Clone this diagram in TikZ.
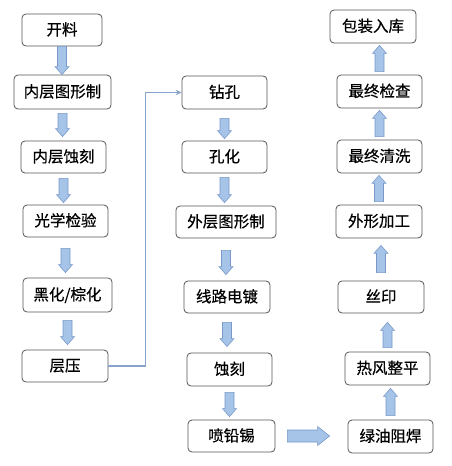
\documentclass[tikz,border=0pt]{standalone}
\usepackage{fontspec}
\setmainfont{Noto Sans CJK SC}[BoldFont={Noto Sans CJK SC},BoldFeatures={FakeBold=0.5}]
\usetikzlibrary{calc,arrows.meta}
\definecolor{boxline}{HTML}{555555}
\definecolor{arrfill}{HTML}{A6C3E8}
\definecolor{arrline}{HTML}{7899C9}
\definecolor{conline}{HTML}{86A3CB}
\tikzset{
  stepbox/.style={draw=boxline, line width=0.8pt, rounded corners=4pt,
    minimum height=32pt, inner sep=0pt, font=\fontsize{15.5}{15.5}\selectfont\bfseries,
    text height=12.5pt, text depth=2pt, fill=white},
  blockarrow/.style={draw=arrline, fill=arrfill, line width=0.6pt, line join=miter},
  conn/.style={draw=conline, line width=1.5pt}
}
\newcommand\blockarr[5]{%
  \coordinate (bs) at #1; \coordinate (be) at #2;
  \coordinate (bh) at ($(be)!#5!(bs)$);
  \draw[blockarrow] ($(bs)!#3!90:(be)$) -- ($(bh)!#3!90:(be)$) -- ($(bh)!#4!90:(be)$)
    -- (be) -- ($(bh)!#4!-90:(be)$) -- ($(bh)!#3!-90:(be)$) -- ($(bs)!#3!-90:(be)$) -- cycle;
}
\newcommand\varr[2]{\blockarr{#1}{#2}{4.5pt}{7pt}{8pt}}
\begin{document}
\begin{tikzpicture}[x=1pt,y=-1pt]
\useasboundingbox (0,0) rectangle (452,466);
% left column
\node[stepbox, minimum width=80pt] (A1) at (62,30) {开料};
\node[stepbox, minimum width=97pt, minimum height=34pt] (A2) at (62.5,92) {内层图形制};
\node[stepbox, minimum width=85pt] (A3) at (63.5,157) {内层蚀刻};
\node[stepbox, minimum width=85pt] (A4) at (65.5,221) {光学检验};
\node[stepbox, minimum width=89pt, minimum height=34pt] (A5) at (67.5,295) {黑化/棕化};
\node[stepbox, minimum width=86pt] (A6) at (65,366) {层压};
% middle column
\node[stepbox, minimum width=85pt, minimum height=33pt] (B1) at (224.5,92.5) {钻孔};
\node[stepbox, minimum width=85pt] (B2) at (224.5,157) {孔化};
\node[stepbox, minimum width=100pt] (B3) at (226,222) {外层图形制};
\node[stepbox, minimum width=86pt] (B4) at (227,297) {线路电镀};
\node[stepbox, minimum width=85pt, minimum height=33pt] (B5) at (229.5,369.5) {蚀刻};
\node[stepbox, minimum width=87pt] (B6) at (231.5,436) {喷铅锡};
% right column
\node[stepbox, minimum width=86pt, minimum height=33pt] (C1) at (373,26.5) {包装入库};
\node[stepbox, minimum width=85pt, minimum height=33pt] (C2) at (379.5,91.5) {最终检查};
\node[stepbox, minimum width=85pt, minimum height=33pt] (C3) at (379.5,156.5) {最终清洗};
\node[stepbox, minimum width=86pt, minimum height=33pt] (C4) at (379,221.5) {外形加工};
\node[stepbox, minimum width=86pt] (C5) at (381,297) {丝印};
\node[stepbox, minimum width=85pt, minimum height=33pt] (C6) at (387.5,368.5) {热风整平};
\node[stepbox, minimum width=85pt, minimum height=33pt] (C7) at (390.5,436.5) {绿油阻焊};
% left column arrows
\varr{(A1.south)}{(A1.south |- A2.north)}
\varr{([yshift=-4pt]A2.south)}{([yshift=4pt]A2.south |- A3.north)}
\varr{([yshift=-5pt]A3.south)}{([yshift=2pt]A3.south |- A4.north)}
\varr{([yshift=-11pt]A4.south)}{([yshift=5pt]A4.south |- A5.north)}
\varr{([yshift=-8pt]A5.south)}{([yshift=5pt]A5.south |- A6.north)}
% middle column arrows
\varr{([yshift=-9pt]B1.south)}{([yshift=2pt]B1.south |- B2.north)}
\varr{([yshift=-4pt]B2.south)}{([yshift=3pt]B2.south |- B3.north)}
\varr{([yshift=-12pt]B3.south)}{([yshift=6pt]B3.south |- B4.north)}
\varr{([yshift=-9pt]B4.south)}{([yshift=6pt]B4.south |- B5.north)}
\varr{([yshift=-6pt]B5.south)}{([yshift=3pt]B5.south |- B6.north)}
% right column arrows (upwards)
\varr{([yshift=4pt]C7.north)}{([yshift=-3pt]C7.north |- C6.south)}
\varr{([yshift=4pt]C6.north)}{([yshift=-9pt]C6.north |- C5.south)}
\varr{([yshift=8pt]C5.north)}{([yshift=-7pt]C5.north |- C4.south)}
\varr{([yshift=3pt]C4.north)}{([yshift=-2pt]C4.north |- C3.south)}
\varr{([yshift=3pt]C3.north)}{([yshift=-2pt]C3.north |- C2.south)}
\varr{([yshift=3pt]C2.north)}{([yshift=-2pt]C2.north |- C1.south)}
% horizontal arrow
\blockarr{([xshift=12pt]B6.east)}{([xshift=-18pt]C7.west |- B6.east)}{6pt}{9.5pt}{12pt}
% connector from 层压 to 钻孔
\draw[conn, -{Stealth[length=6pt,width=5.5pt]}] (A6.east) -- ++(37pt,0) |- (B1.west);
\end{tikzpicture}
\end{document}
